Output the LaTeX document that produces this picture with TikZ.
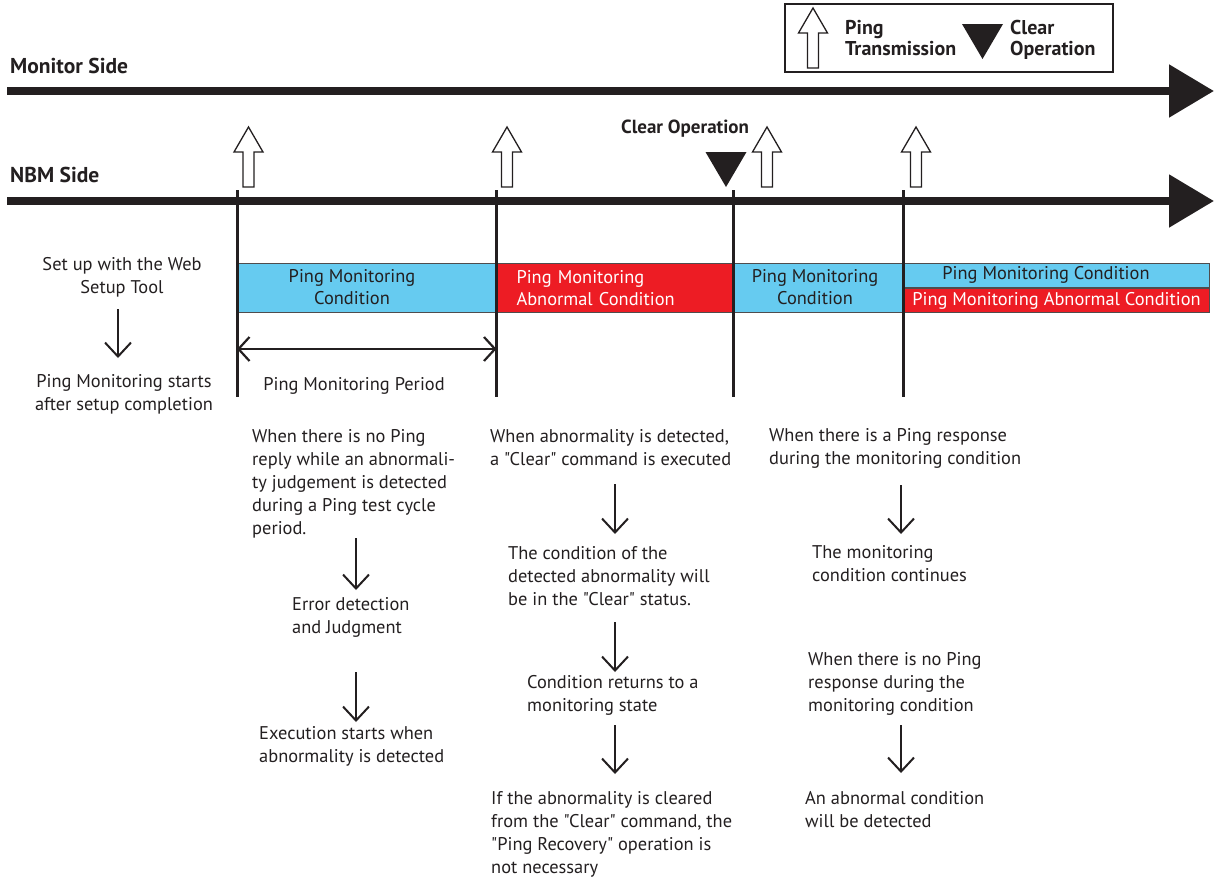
\documentclass[tikz,border=0pt]{standalone}
\usepackage{fontspec}
\setmainfont{PT Sans}[Ligatures=TeXOff]
\usetikzlibrary{arrows.meta,positioning,calc}
\definecolor{ink}{HTML}{231F20}
\definecolor{monblue}{HTML}{66CBF0}
\definecolor{abnred}{HTML}{ED1C24}
\tikzset{
  pingup/.pic={\draw[ink, line width=1.3pt, fill=white]
    (-5.5,0) -- (-5.5,-35) -- (-14.5,-35) -- (0,-60) -- (14.5,-35) -- (5.5,-35) -- (5.5,0) -- cycle;},
  cleardown/.pic={\fill[ink] (-20.5,-35) -- (20.5,-35) -- (0,0) -- cycle;}
}

\begin{document}
\begin{tikzpicture}[x=1pt, y=-1pt, >=Stealth,
  every node/.style={text=ink, inner sep=0pt, font=\fontsize{18.4}{23}\selectfont},
  lbl/.style={font=\fontsize{20}{21}\selectfont\bfseries},
  side/.style={font=\fontsize{21.5}{24}\selectfont\bfseries},
  txt/.style={align=left, anchor=north west},
  ctxt/.style={align=center, anchor=north},
  axis/.style={draw=ink, line width=8.5pt, -{Triangle[length=45pt,width=51pt]}},
  tick/.style={draw=ink, line width=3pt},
  bar/.style={draw=ink!80, line width=1pt, anchor=north west, minimum height=49pt},
  bartext/.style={align=center, font=\fontsize{18.4}{22}\selectfont},
  span/.style={draw=ink, line width=2.2pt, {Straight Barb[length=11pt,width=24pt]}-{Straight Barb[length=11pt,width=24pt]}},
  dn/.style={draw=ink, line width=2.5pt, -{Straight Barb[length=14pt,width=26pt,line width=2pt]}}]
  \useasboundingbox (0,0) rectangle (1217,878);

  % legend
  \draw[ink, line width=1.8pt] (785,4) rectangle (1113,72);
  \pic at (813,68) {pingup};
  \node[lbl, txt] (lgping) at (845,20) {Ping\\Transmission};
  \pic at (982.5,59) {cleardown};
  \node[lbl, txt] (lgclear) at (1010,20) {Clear\\Operation};

  % the two time axes
  \node[side, txt] (monside) at (10,58) {Monitor Side};
  \coordinate (monL) at (7,91);
  \coordinate (monR) at (1214,91);
  \draw[axis] (monL) -- (monR);
  \node[side, txt] (nbmside) at (10,167) {NBM Side};
  \coordinate (nbmL) at (7,201);
  \coordinate (nbmR) at (1214,201);
  \draw[axis] (nbmL) -- (nbmR);

  % ping transmissions and the clear operation
  \foreach \x in {248.5,507,767,916}
    \pic at (\x,187) {pingup};
  \pic at (726,187) {cleardown};
  \node[lbl, txt, font=\fontsize{19}{21}\selectfont\bfseries] (clearop) at (621,120) {Clear Operation};

  % monitoring conditions
  \node[bar, fill=monblue, minimum width=260pt] (cond1) at (237,263) {};
  \node[bartext] (cond1t) at (352,287.5) {Ping Monitoring\\Condition};
  \node[bar, fill=abnred, minimum width=236pt, text width=198pt, align=left, text=white, font=\fontsize{18.4}{22}\selectfont] (abn1) at (497,263) {Ping Monitoring\\Abnormal Condition};
  \node[bar, fill=monblue, minimum width=170pt] (cond2) at (733,263) {};
  \node[bartext] (cond2t) at (815,287.5) {Ping Monitoring\\Condition};
  \node[bar, fill=monblue, minimum width=306pt, minimum height=24pt] (cond3) at (903,263) {};
  \node[bartext] (cond3t) at (1046,275) {Ping Monitoring Condition};
  \node[bar, fill=abnred, minimum width=306pt, minimum height=24pt, text=white] (abn2) at (903,288) {Ping Monitoring Abnormal Condition};

  % time marks
  \foreach \i/\x in {1/237,2/496.5,3/733,4/903} {
    \coordinate (top\i) at (\x,190);
    \coordinate (bot\i) at (\x,397);
    \draw[tick] (top\i) -- (bot\i);
  }

  % monitoring period
  \coordinate (perL) at (237,349);
  \coordinate (perR) at (496.5,349);
  \draw[span] (perL) -- (perR);
  \node[ctxt] (period) at (354,377) {Ping Monitoring Period};

  % setup
  \node[ctxt] (setup) at (122,257) {Set up with the Web\\Setup Tool};
  \node[ctxt] (started) at (124,374) {Ping Monitoring starts\\after setup completion};

  % no reply case
  \node[txt] (noreply) at (252,429) {When there is no Ping\\reply while an abnormali-\\ty judgement is detected\\during a Ping test cycle\\period.};
  \node[txt] (errdet) at (292,597) {Error detection\\and Judgment};
  \node[txt] (exec) at (259,726) {Execution starts when\\abnormality is detected};

  % clear case
  \node[txt] (abndet) at (490,429) {When abnormality is detected,\\a "Clear" command is executed};
  \node[txt] (clrstat) at (508,546) {The condition of the\\detected abnormality will\\be in the "Clear" status.};
  \node[txt] (returns) at (527,675) {Condition returns to a\\monitoring state};
  \node[txt] (norecov) at (491,791) {If the abnormality is cleared\\from the "Clear" command, the\\"Ping Recovery" operation is\\not necessary};

  % response cases
  \node[txt] (resp) at (769,428) {When there is a Ping response\\during the monitoring condition};
  \node[txt] (cont) at (812,545) {The monitoring\\condition continues};
  \node[txt] (noresp) at (808,652) {When there is no Ping\\response during the\\monitoring condition};
  \node[txt] (abnfound) at (805,791) {An abnormal condition\\will be detected};

  % flow arrows
  \foreach \n/\x/\ya/\yb in {1/118/309/358, 2/356/538/590, 3/356/672/722, 4/615/484/534,
      5/615/622/672, 6/615/725/774, 7/901/485/534, 8/901/725/773} {
    \coordinate (dn\n a) at (\x,\ya);
    \coordinate (dn\n b) at (\x,\yb);
    \draw[dn] (dn\n a) -- (dn\n b);
  }
\end{tikzpicture}
\end{document}
